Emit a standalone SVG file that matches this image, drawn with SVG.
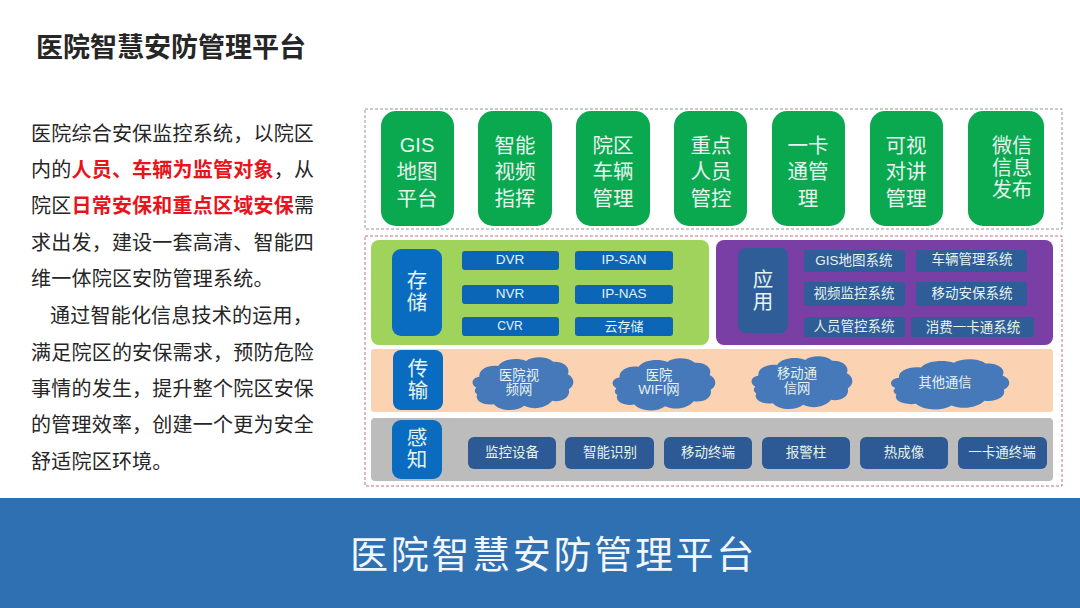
<svg xmlns="http://www.w3.org/2000/svg" width="1080" height="608" viewBox="0 0 1080 608">
<style>
text{font-family:"Liberation Sans","Noto Sans CJK SC",sans-serif}
.c{text-anchor:middle;fill:#e6f3ee}
.body{font-size:20px;fill:#262626;letter-spacing:.22px}
.red{fill:#e8141c;font-weight:700}
.g{fill:#0aa84f}.gt{font-size:20.5px}
.blue{fill:#0a6cc0}.bt{font-size:20.5px}
.it{fill:#0b66b8}.itt{font-size:13.5px}
.sys{fill:#2f5d97}.syst{font-size:13.5px}
.dev{fill:#2d5a94}.devt{font-size:13.5px}
.cl{fill:#4679b9}.clt{font-size:13.3px}
.dash{fill:none;stroke:#8f9a94;stroke-width:1;stroke-dasharray:3 2}
.dash2{stroke:#c0707c}
</style>
<defs>
<path id="cloud" d="M6 38C0 34 2 26 9 25C8 16 18 10 27 12C32 3 46 2 54 6C60 0 74 0 80 7C90 6 97 14 94 22C101 26 101 36 95 40C97 50 88 56 79 54C74 62 62 66 52 60C44 68 28 66 23 58C13 60 4 54 7 46C4 44 4 41 6 38Z"/>
</defs>
<rect width="1080" height="608" fill="#fff"/>
<text id="title" x="36" y="57" font-size="27" font-weight="700" fill="#262626">医院智慧安防管理平台</text>
<g id="description">
<text class="body" x="31" y="141">医院综合安保监控系统，以院区</text>
<text class="body" x="31" y="177">内的<tspan class="red">人员、车辆为监管对象</tspan>，从</text>
<text class="body" x="31" y="213">院区<tspan class="red">日常安保和重点区域安保</tspan>需</text>
<text class="body" x="31" y="250">求出发，建设一套高清、智能四</text>
<text class="body" x="31" y="286">维一体院区安防管理系统。</text>
<text class="body" x="50" y="323">通过智能化信息技术的运用，</text>
<text class="body" x="31" y="360">满足院区的安保需求，预防危险</text>
<text class="body" x="31" y="396">事情的发生，提升整个院区安保</text>
<text class="body" x="31" y="432">的管理效率，创建一个更为安全</text>
<text class="body" x="31" y="469">舒适院区环境。</text>
</g>
<rect id="frame-top" class="dash" x="365" y="109" width="697" height="120"/>
<rect id="frame-bottom" class="dash dash2" x="365" y="236" width="697" height="250"/>

<g id="app-gis"><rect class="g" x="381" y="111" width="73" height="115" rx="15"/><text class="c" font-size="20" x="417" y="152">GIS</text><text class="c gt" x="417" y="179">地图</text><text class="c gt" x="417" y="206">平台</text></g>
<g id="app-video"><rect class="g" x="478" y="111" width="74" height="115" rx="15"/><text class="c gt" x="515" y="153">智能</text><text class="c gt" x="515" y="179">视频</text><text class="c gt" x="515" y="206">指挥</text></g>
<g id="app-vehicle"><rect class="g" x="576" y="111" width="74" height="115" rx="15"/><text class="c gt" x="613" y="153">院区</text><text class="c gt" x="613" y="179">车辆</text><text class="c gt" x="613" y="206">管理</text></g>
<g id="app-person"><rect class="g" x="674" y="111" width="73" height="115" rx="15"/><text class="c gt" x="711" y="153">重点</text><text class="c gt" x="711" y="179">人员</text><text class="c gt" x="711" y="206">管控</text></g>
<g id="app-card"><rect class="g" x="772" y="111" width="73" height="115" rx="15"/><text class="c gt" x="808" y="153">一卡</text><text class="c gt" x="808" y="179">通管</text><text class="c gt" x="808" y="206">理</text></g>
<g id="app-talk"><rect class="g" x="870" y="111" width="73" height="115" rx="15"/><text class="c gt" x="906" y="153">可视</text><text class="c gt" x="906" y="179">对讲</text><text class="c gt" x="906" y="206">管理</text></g>
<g id="app-wechat"><rect class="g" x="968" y="111" width="76" height="115" rx="15"/><text class="c" font-size="20" x="1012" y="153">微信</text><text class="c" font-size="20" x="1012" y="175">信息</text><text class="c" font-size="20" x="1012" y="197">发布</text></g>

<g id="storage">
<rect x="371" y="240" width="338" height="105" rx="8" fill="#a0d35c"/>
<rect class="blue" x="392" y="249" width="50" height="87" rx="9"/>
<text class="c bt" x="417" y="288">存</text><text class="c bt" x="417" y="310">储</text>
<rect class="it" x="462" y="251" width="97" height="19" rx="3"/><text class="c itt" x="510" y="264">DVR</text>
<rect class="it" x="575" y="251" width="98" height="19" rx="3"/><text class="c itt" x="624" y="264">IP-SAN</text>
<rect class="it" x="462" y="285" width="97" height="19" rx="3"/><text class="c itt" x="510" y="298">NVR</text>
<rect class="it" x="575" y="285" width="98" height="19" rx="3"/><text class="c itt" x="624" y="298">IP-NAS</text>
<rect class="it" x="462" y="317" width="97" height="19" rx="3"/><text class="c" x="510" y="330" font-size="12">CVR</text>
<rect class="it" x="575" y="317" width="98" height="19" rx="3"/><text class="c" x="624" y="331" font-size="13">云存储</text>
</g>

<g id="application">
<rect x="716" y="240" width="337" height="105" rx="8" fill="#7a3fa4"/>
<rect class="sys" x="738" y="248" width="50" height="85" rx="8"/>
<text class="c bt" x="763" y="287">应</text><text class="c bt" x="763" y="309">用</text>
<rect class="sys" x="804" y="250" width="101" height="22" rx="3"/><text class="c syst" x="854" y="265">GIS地图系统</text>
<rect class="sys" x="916" y="250" width="111" height="22" rx="3"/><text class="c syst" x="972" y="264">车辆管理系统</text>
<rect class="sys" x="804" y="282" width="101" height="24" rx="3"/><text class="c syst" x="854" y="298">视频监控系统</text>
<rect class="sys" x="916" y="282" width="111" height="24" rx="3"/><text class="c syst" x="972" y="298">移动安保系统</text>
<rect class="sys" x="804" y="317" width="101" height="20" rx="3"/><text class="c syst" x="854" y="331">人员管控系统</text>
<rect class="sys" x="911" y="317" width="123" height="20" rx="3"/><text class="c syst" x="973" y="332">消费一卡通系统</text>
</g>

<g id="transport">
<rect x="371" y="349" width="682" height="63" rx="3" fill="#fbd2b2"/>
<rect class="blue" x="393" y="350" width="50" height="60" rx="8"/>
<text class="c bt" x="418" y="376">传</text><text class="c bt" x="418" y="398">输</text>
</g>
<g id="cloud-video"><use href="#cloud" class="cl" transform="translate(470 356) scale(1.04 .83)"/><text class="c clt" x="519" y="380">医院视</text><text class="c clt" x="519" y="394">频网</text></g>
<g id="cloud-wifi"><use href="#cloud" class="cl" transform="translate(610 357) scale(1.06 .82)"/><text class="c clt" x="659" y="380">医院</text><text class="c clt" x="659" y="394">WIFI网</text></g>
<g id="cloud-mobile"><use href="#cloud" class="cl" transform="translate(749 355) scale(1.04 .83)"/><text class="c clt" x="797" y="378">移动通</text><text class="c clt" x="797" y="393">信网</text></g>
<g id="cloud-other"><use href="#cloud" class="cl" transform="translate(888 358) scale(1.22 .79)"/><text class="c clt" x="945" y="387">其他通信</text></g>

<g id="sensing">
<rect x="371" y="418" width="682" height="63" rx="4" fill="#bcbcbc"/>
<rect class="blue" x="392" y="420" width="50" height="59" rx="9"/>
<text class="c bt" x="417" y="445">感</text><text class="c bt" x="417" y="467">知</text>
<rect class="dev" x="468" y="437" width="88" height="32" rx="6"/><text class="c devt" x="512" y="457">监控设备</text>
<rect class="dev" x="565" y="437" width="89" height="32" rx="6"/><text class="c devt" x="610" y="457">智能识别</text>
<rect class="dev" x="664" y="437" width="88" height="32" rx="6"/><text class="c devt" x="708" y="457">移动终端</text>
<rect class="dev" x="762" y="437" width="88" height="32" rx="6"/><text class="c devt" x="806" y="457">报警柱</text>
<rect class="dev" x="860" y="437" width="88" height="32" rx="6"/><text class="c devt" x="904" y="457">热成像</text>
<rect class="dev" x="958" y="437" width="89" height="32" rx="6"/><text class="c devt" x="1002" y="457">一卡通终端</text>
</g>

<g id="banner">
<rect x="0" y="498" width="1080" height="110" fill="#2e70b2"/>
<text x="350" y="568" font-size="38" letter-spacing="2.7" fill="#f2f6fa">医院智慧安防管理平台</text>
</g>
</svg>
